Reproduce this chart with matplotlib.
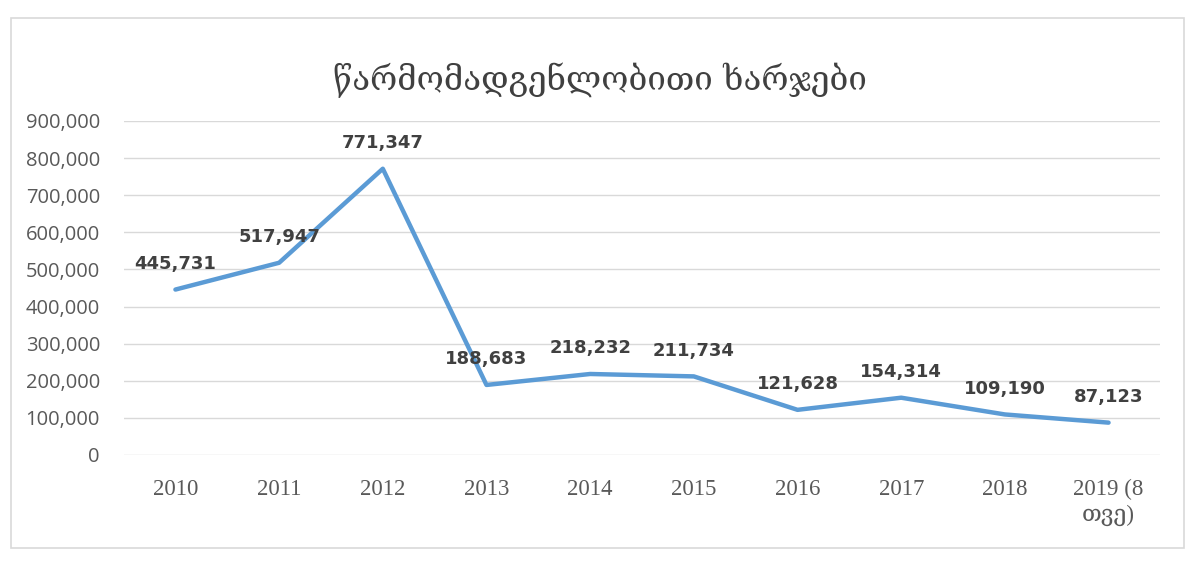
import matplotlib.pyplot as plt
from matplotlib.patches import Rectangle
from matplotlib.ticker import FuncFormatter

years = ["2010", "2011", "2012", "2013", "2014", "2015", "2016", "2017", "2018", "2019 (8\nთვე)"]
costs = [445731, 517947, 771347, 188683, 218232, 211734, 121628, 154314, 109190, 87123]
title = "წარმომადგენლობითი ხარჯები"

fig = plt.figure(figsize=(12, 5.68), dpi=100)
ax = fig.add_axes([0.103, 0.199, 0.864, 0.588])

# chart frame
fig.patches.append(Rectangle((0.009, 0.035), 0.978, 0.933, transform=fig.transFigure,
                             fill=False, edgecolor="#d9d9d9", linewidth=1.2))

xs = list(range(len(years)))
ax.plot(xs, costs, color="#5b9bd5", linewidth=3.2, solid_capstyle="round")

for x, v in zip(xs, costs):
    ax.annotate(f"{v:,}", (x, v), xytext=(0, 12), textcoords="offset points",
                ha="center", va="bottom", fontsize=13, fontweight="bold",
                color="#404040", family=["DejaVu Sans"])

ax.set_xlim(-0.5, len(years) - 0.5)
ax.set_ylim(0, 900000)
ax.set_yticks(range(0, 900001, 100000))
ax.yaxis.set_major_formatter(FuncFormatter(lambda v, p: f"{int(v):,}"))
ax.set_xticks(xs)
ax.set_xticklabels(years, family=["Liberation Serif", "DejaVu Serif", "DejaVu Sans"],
                   fontsize=16.5, color="#595959", linespacing=1.3, va="top")
for lab in ax.get_yticklabels():
    lab.set_family(["Open Sans", "DejaVu Sans"])
    lab.set_fontsize(14.5)
    lab.set_color("#595959")

ax.grid(axis="y", color="#d9d9d9", linewidth=1)
ax.set_axisbelow(True)
for s in ax.spines.values():
    s.set_visible(False)
ax.tick_params(length=0)
ax.tick_params(axis="x", pad=17)
ax.tick_params(axis="y", pad=17)

fig.text(0.5, 0.858, title, ha="center", va="center", fontsize=23.8,
         color="#404040", family=["DejaVu Serif", "DejaVu Sans"])

fig.savefig("out.png", dpi=100)
